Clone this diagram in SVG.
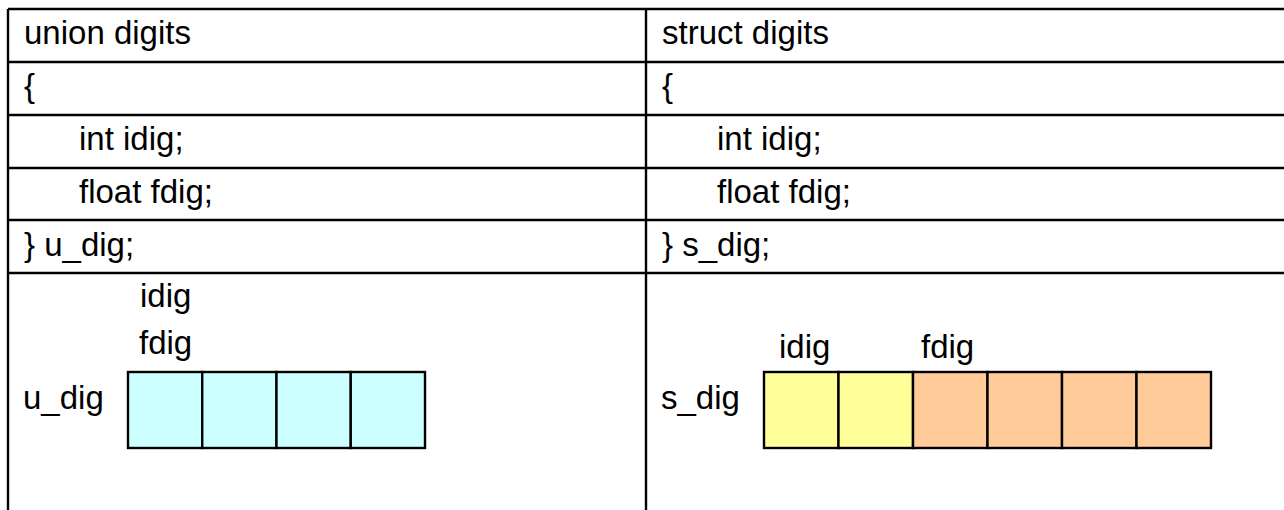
<svg xmlns="http://www.w3.org/2000/svg" width="1284" height="510" viewBox="0 0 1284 510">
<style>
.t{font-family:"Liberation Sans",Arial,sans-serif;font-size:33px;fill:#000}
.g{stroke:#000;stroke-width:2.4;fill:none}
.c{stroke:#000;stroke-width:2.4}
.cy{fill:#CCFFFF}
.ye{fill:#FFFF99}
.or{fill:#FFCC99}
</style>
<rect width="1284" height="510" fill="#fff"/>
<g id="table">
<path class="g" d="M8 9H1284M8 62H1284M8 115H1284M8 168H1284M8 220H1284M8 273H1284M8 9V510M646 9V510"/>
</g>
<g id="union-code">
<text class="t" x="24" y="44">union digits</text>
<text class="t" x="24" y="97">{</text>
<text class="t" x="79" y="150">int idig;</text>
<text class="t" x="79" y="203">float fdig;</text>
<text class="t" x="24" y="256">} u_dig;</text>
</g>
<g id="struct-code">
<text class="t" x="662" y="44">struct digits</text>
<text class="t" x="662" y="97">{</text>
<text class="t" x="717" y="150">int idig;</text>
<text class="t" x="717" y="203">float fdig;</text>
<text class="t" x="662" y="256">} s_dig;</text>
</g>
<g id="u_dig">
<text class="t" x="140" y="307">idig</text>
<text class="t" x="139" y="354">fdig</text>
<text class="t" x="23" y="409">u_dig</text>
<rect class="c cy" x="128" y="372" width="74.25" height="76"/>
<rect class="c cy" x="202.25" y="372" width="74.25" height="76"/>
<rect class="c cy" x="276.5" y="372" width="74.25" height="76"/>
<rect class="c cy" x="350.75" y="372" width="74.25" height="76"/>
</g>
<g id="s_dig">
<text class="t" x="779" y="358">idig</text>
<text class="t" x="921" y="358">fdig</text>
<text class="t" x="661" y="409">s_dig</text>
<rect class="c ye" x="764" y="372" width="74.5" height="76"/>
<rect class="c ye" x="838.5" y="372" width="74.5" height="76"/>
<rect class="c or" x="913" y="372" width="74.5" height="76"/>
<rect class="c or" x="987.5" y="372" width="74.5" height="76"/>
<rect class="c or" x="1062" y="372" width="74.5" height="76"/>
<rect class="c or" x="1136.5" y="372" width="74.5" height="76"/>
</g>
</svg>
